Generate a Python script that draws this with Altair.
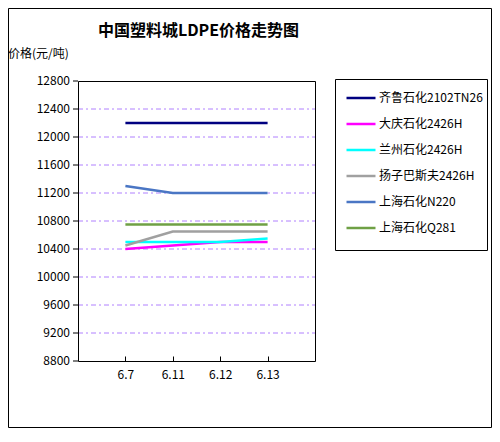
import pandas as pd
import altair as alt

# 日期与各牌号价格(元/吨)
dates = ["6.7", "6.11", "6.12", "6.13"]
series = ["齐鲁石化2102TN26", "大庆石化2426H", "兰州石化2426H",
          "扬子巴斯夫2426H", "上海石化N220", "上海石化Q281"]
qilu = [12200, 12200, 12200, 12200]
daqing = [10400, 10450, 10500, 10500]
lanzhou = [10500, 10500, 10500, 10550]
yangzi = [10450, 10650, 10650, 10650]
sh_n220 = [11300, 11200, 11200, 11200]
sh_q281 = [10750, 10750, 10750, 10750]
colors = ["#000080", "#FF00FF", "#00FFFF", "#A0A0A0", "#4A76C4", "#6FA045"]
title_text = "中国塑料城LDPE价格走势图"

values = [qilu, daqing, lanzhou, yangzi, sh_n220, sh_q281]
rows = []
for name, vals in zip(series, values):
    for d, v in zip(dates, vals):
        rows.append({"日期": d, "系列": name, "价格": v})
df = pd.DataFrame(rows)

font = "Noto Sans CJK SC"
W, H = 237, 280
pad = {"left": 70, "top": 73, "right": 177, "bottom": 67}

x_scale = alt.Scale(type="point", padding=1)
y_scale = alt.Scale(domain=[8800, 12800])

lines = alt.Chart(df).mark_line(strokeWidth=2.5).encode(
    x=alt.X("日期:N", sort=dates, scale=x_scale,
            axis=alt.Axis(title=None, ticks=False, domain=False, labelAngle=0,
                          labelPadding=8, labelFontSize=12, labelFont=font,
                          labelColor="black")),
    y=alt.Y("价格:Q", scale=y_scale,
            axis=alt.Axis(values=list(range(8800, 12801, 400)), format="d",
                          title="价格(元/吨)", translate=0,
                          titleAngle=0, titleAlign="left", titleX=-70, titleY=-20,
                          titleFont=font, titleFontSize=12, titleFontWeight="normal",
                          titleColor="black", domain=False,
                          tickSize=5, tickColor="black",
                          labelFont=font, labelFontSize=12, labelColor="black",
                          labelPadding=3, gridColor="#B080FF",
                          gridOpacity=alt.condition(
                              "datum.value == 8800 || datum.value == 12800",
                              alt.value(0), alt.value(1)),
                          gridDash=[5, 3, 2, 3], gridWidth=1)),
    color=alt.Color("系列:N", sort=series,
                    scale=alt.Scale(domain=series, range=colors),
                    legend=alt.Legend(title=None, orient="none", legendX=267, legendY=1,
                                      symbolType="stroke", symbolStrokeWidth=2.5,
                                      symbolSize=841, labelFont=font, labelFontSize=12,
                                      labelColor="black", labelOffset=2, rowPadding=4,
                                      padding=0, labelLimit=200)),
)

# 横轴内侧刻度
ticks = alt.Chart(df).mark_line(opacity=0).encode(
    x=alt.X("日期:N", sort=dates, scale=x_scale,
            axis=alt.Axis(orient="top", offset=-H, labels=False, domain=False,
                          title=None, tickSize=5, tickColor="black", grid=False,
                          tickWidth=1)),
)

frame = pd.DataFrame({"k": [0]})
plot_box = alt.Chart(frame).mark_rect(fill=None, stroke="black", strokeWidth=1).encode(
    x=alt.value(0.5), x2=alt.value(W + 0.5), y=alt.value(0.5), y2=alt.value(H + 0.5))
legend_box = alt.Chart(frame).mark_rect(fill=None, stroke="black", strokeWidth=1).encode(
    x=alt.value(257.5), x2=alt.value(409.5), y=alt.value(-1.5), y2=alt.value(169.5))
outer_box = alt.Chart(frame).mark_rect(fill=None, stroke="black", strokeWidth=1).encode(
    x=alt.value(-69.5), x2=alt.value(413.5), y=alt.value(-72.5), y2=alt.value(346.5))
title = alt.Chart(frame).mark_text(font=font, fontSize=16, fontWeight="bold",
                                   color="black", baseline="alphabetic").encode(
    x=alt.value(W / 2 + 2), y=alt.value(-45), text=alt.value(title_text))

chart = (
    alt.layer(lines, ticks, plot_box, legend_box, outer_box, title)
    .resolve_axis(x="independent")
    .properties(width=W, height=H, autosize=alt.AutoSizeParams(type="none"), padding=pad)
    .configure_view(stroke=None)
    .configure_axis(grid=False)
    .configure_axisY(grid=True)
    .configure(background="white")
)

chart.save("out.html", embed_options={"renderer": "svg", "actions": False})
